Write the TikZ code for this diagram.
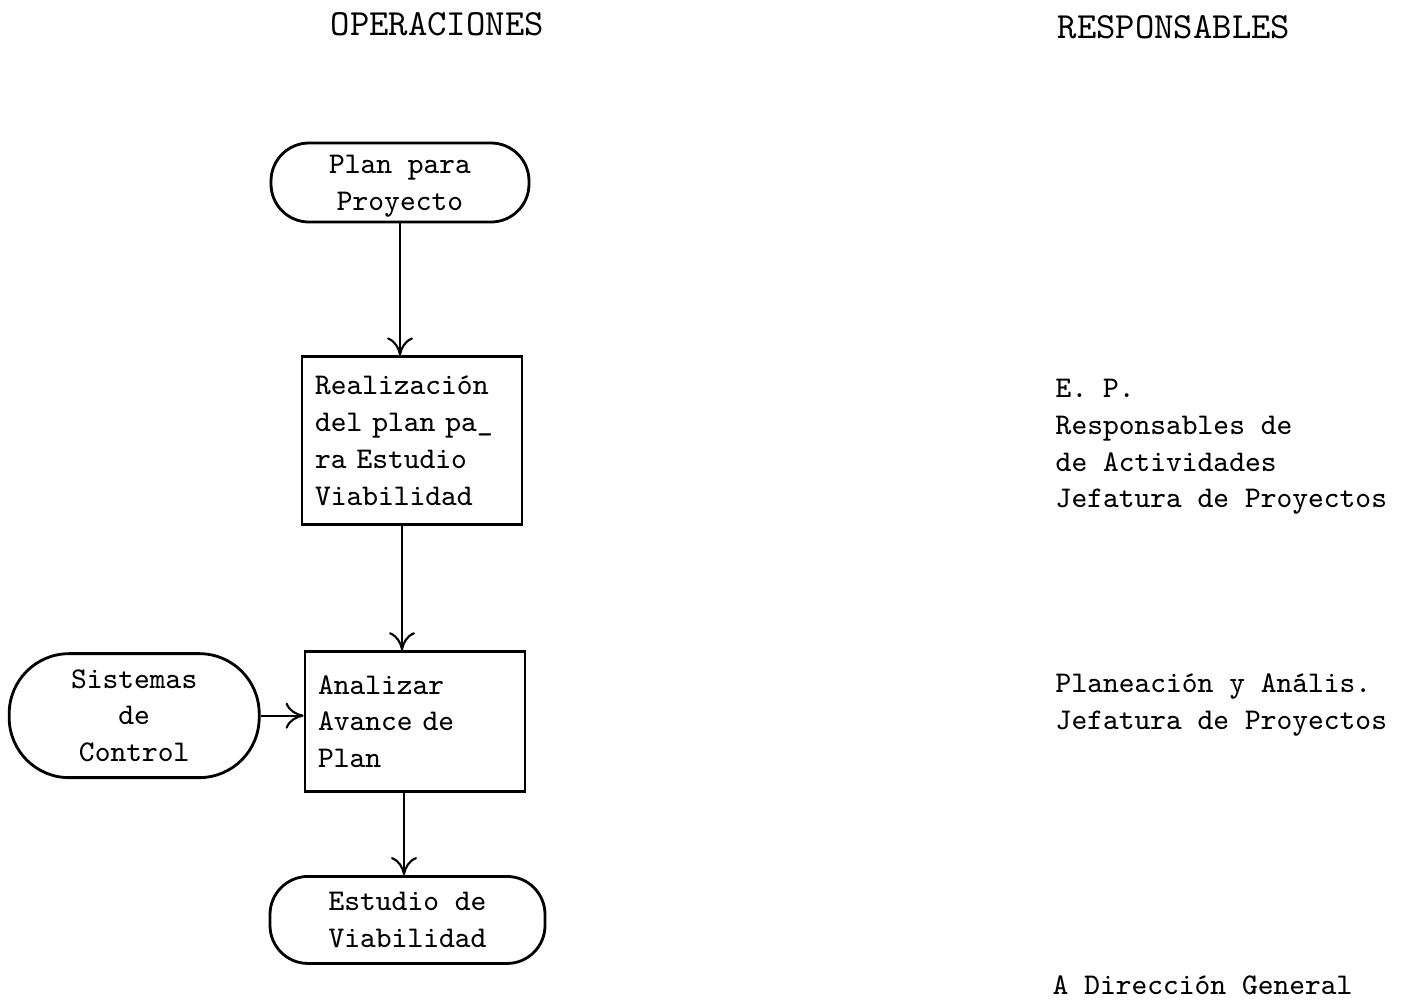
\documentclass[tikz,border=0pt]{standalone}
\usepackage{tikz}
\usetikzlibrary{arrows.meta, positioning}
\tikzstyle{terminal} = [rectangle, draw, line width=0.8pt, rounded corners=0.38cm,
                        align=center, inner sep=0pt, text depth=0pt,
                        font=\fontsize{8.55}{10.44}\selectfont\ttfamily]
\tikzstyle{process}  = [rectangle, draw, line width=0.8pt, text width=1.94cm,
                        inner xsep=0.13cm, align=left,
                        font=\fontsize{8.55}{10.44}\selectfont\ttfamily]
\tikzstyle{respon}   = [anchor=west, align=left, inner sep=0pt,
                        font=\fontsize{8.55}{10.44}\selectfont\ttfamily]
\tikzstyle{header}   = [anchor=west, inner sep=0pt,
                        font=\fontsize{10.5}{12}\selectfont\ttfamily]
\tikzstyle{arrow}    = [-{To[length=1.8mm, width=2.6mm]}, line width=0.6pt]

\begin{document}
\begin{tikzpicture}
  \useasboundingbox (0,0) rectangle (14.07,-10.01);

  % Column headings
  \node[header] (hop)  at (3.30,-0.24)  {OPERACIONES};
  \node[header] (hres) at (10.57,-0.27) {RESPONSABLES};

  % Flow of operations
  \node[terminal, minimum width=2.58cm, minimum height=0.79cm]
    (plan) at (4.00,-1.825) {Plan para\\Proyecto};
  \node[process, minimum height=1.68cm, below=1.32cm of plan, xshift=0.12cm]
    (real) {Realización\\del plan pa\_\\ra Estudio\\Viabilidad};
  \node[process, minimum height=1.40cm, below=1.24cm of real, xshift=0.03cm]
    (anal) {Analizar\\Avance de\\Plan};
  \node[terminal, minimum width=2.50cm, minimum height=1.24cm, rounded corners=0.6cm,
        left=0.43cm of anal, yshift=0.06cm]
    (sis) {Sistemas\\de\\Control};
  \node[terminal, minimum width=2.75cm, minimum height=0.87cm,
        below=0.82cm of anal, xshift=-0.075cm]
    (est) {Estudio de\\Viabilidad};

  % Responsibles
  \node[respon] (rreal) at (10.55,-4.47) {E. P.\\Responsables de\\de Actividades\\Jefatura de Proyectos};
  \node[respon] (ranal) at (10.55,-7.05) {Planeación y Anális.\\Jefatura de Proyectos};
  \node[respon] (rest)  at (10.52,-9.85) {A Dirección General};

  % Arrows
  \draw[arrow] (plan.south) -- (plan.south |- real.north);
  \draw[arrow] ([xshift=-0.1cm]real.south) -- ([xshift=-0.1cm]real.south |- anal.north);
  \draw[arrow] ([xshift=-0.11cm]anal.south) -- ([xshift=-0.11cm]anal.south |- est.north);
  \draw[arrow] (sis.east) -- (sis.east -| anal.west);
\end{tikzpicture}
\end{document}
